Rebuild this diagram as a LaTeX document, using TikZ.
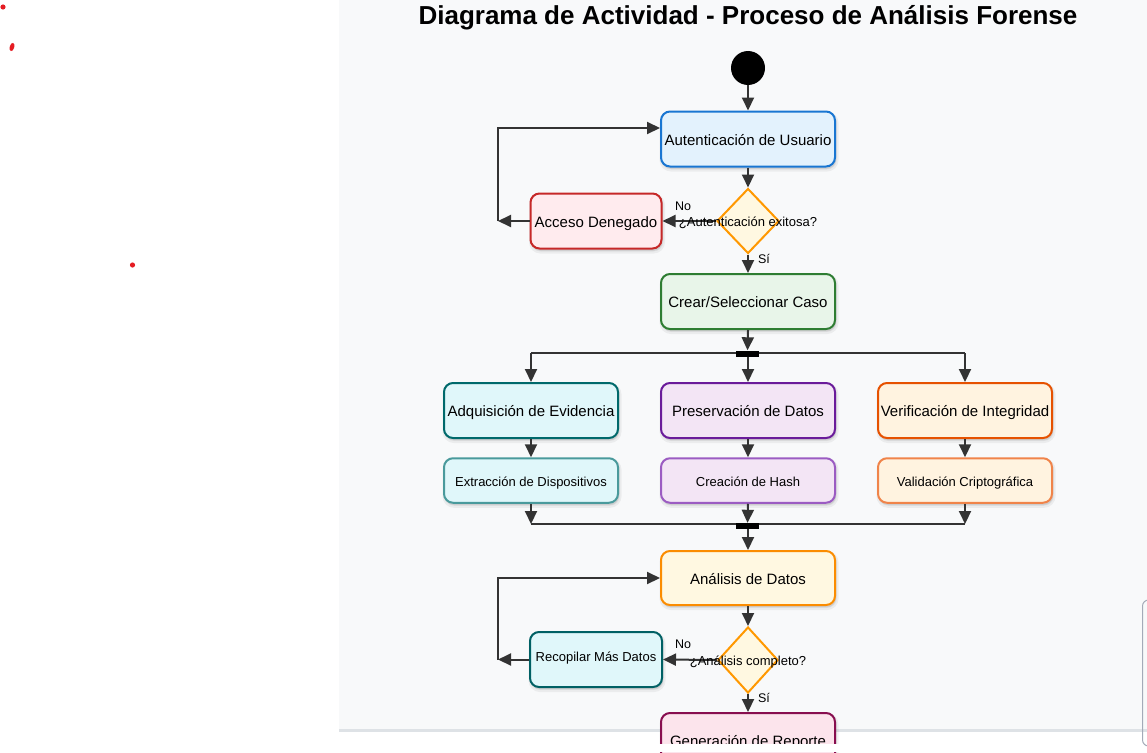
\documentclass[tikz,border=0pt]{standalone}
\usepackage{fontspec}
\setmainfont{Liberation Sans}
\usetikzlibrary{arrows.meta,shapes.geometric}
\definecolor{panel}{HTML}{F8F9FA}
\definecolor{panelline}{HTML}{DEE2E6}
\definecolor{arrowc}{HTML}{333333}
\definecolor{dotred}{HTML}{E51C23}
\definecolor{bBlue}{HTML}{1976D2}\definecolor{fBlue}{HTML}{E3F2FD}
\definecolor{bRed}{HTML}{C62828}\definecolor{fRed}{HTML}{FFEBEE}
\definecolor{bGreen}{HTML}{2E7D32}\definecolor{fGreen}{HTML}{E8F5E9}
\definecolor{bTeal}{HTML}{00696B}\definecolor{fTeal}{HTML}{E0F7FA}
\definecolor{bTealL}{HTML}{4A9A9C}
\definecolor{bPurple}{HTML}{6A1B9A}\definecolor{fPurple}{HTML}{F3E5F5}
\definecolor{bPurpleL}{HTML}{9B5CC2}
\definecolor{bOrangeD}{HTML}{E65100}\definecolor{fOrange}{HTML}{FFF3E0}
\definecolor{bOrangeL}{HTML}{F0844A}
\definecolor{bAmber}{HTML}{FB8C00}\definecolor{fAmber}{HTML}{FFF8E1}
\definecolor{bDiam}{HTML}{FF9800}
\definecolor{bTealD}{HTML}{006064}
\definecolor{bPink}{HTML}{880E4F}\definecolor{fPink}{HTML}{FCE4EC}
\definecolor{sideline}{HTML}{A3AAB8}
\tikzset{
  box/.style={rectangle, rounded corners=9pt, line width=2pt, inner sep=0pt,
    minimum width=174pt, minimum height=55pt, align=center,
    font=\fontsize{15}{18}\selectfont, text height=13pt, text depth=1pt,
    preaction={draw=black, draw opacity=0.05, line width=5pt, fill=black, fill opacity=0.05, transform canvas={xshift=1pt, yshift=-2.5pt}},
    preaction={draw=black, draw opacity=0.04, line width=2pt, fill=black, fill opacity=0.04, transform canvas={xshift=1pt, yshift=-2pt}}},
  smallbox/.style={box, minimum height=44.5pt, font=\fontsize{13}{16}\selectfont, text height=12pt, text depth=1pt},
  diam/.style={diamond, line width=2pt, draw=bDiam, fill=fAmber, inner sep=0pt,
    minimum width=62pt, minimum height=65pt},
  dtext/.style={font=\fontsize{13}{16}\selectfont, inner sep=0pt, text height=12pt, text depth=1pt},
  lbl/.style={font=\fontsize{12.5}{15}\selectfont, inner sep=0pt},
  bar/.style={rectangle, fill=black, inner sep=0pt, minimum width=23pt, minimum height=6pt},
  arr/.style={draw=arrowc, line width=2pt, -{Triangle[length=13pt,width=12pt]}},
  plain/.style={draw=arrowc, line width=2pt},
}
\begin{document}
\begin{tikzpicture}[x=1pt,y=-1pt]
\useasboundingbox (0,0) rectangle (1147,752);
\fill[white] (0,0) rectangle (1147,752);
% panel
\fill[panel] (339,0) rectangle (1147,729);
\fill[panelline] (339,729) rectangle (1147,731.5);
% red dots
\fill[dotred] (3,7) circle[radius=2.6pt];
\fill[dotred, rotate around={-15:(12,47)}] (12,47) ellipse[x radius=2.3pt, y radius=4.2pt];
\fill[dotred] (132.5,265) circle[radius=2.6pt];
% title
\node[font=\bfseries\fontsize{26}{30}\selectfont, inner sep=0pt] (title) at (748,18) {Diagrama de Actividad - Proceso de Análisis Forense};
% start
\node[circle, fill=black, minimum size=34pt, inner sep=0pt] (start) at (748,68) {};
% nodes
\node[box, draw=bBlue, fill=fBlue] (auth) at (748,139) {Autenticación de Usuario};
\node[diam] (d1) at (748,221) {};
\node[box, draw=bRed, fill=fRed, minimum width=131pt] (acc) at (596,221) {Acceso Denegado};
\node[box, draw=bGreen, fill=fGreen] (crear) at (748,301.5) {Crear/Seleccionar Caso};
\node[box, draw=bTeal, fill=fTeal] (adq) at (531,410.5) {Adquisición de Evidencia};
\node[box, draw=bPurple, fill=fPurple] (pres) at (748,410.5) {Preservación de Datos};
\node[box, draw=bOrangeD, fill=fOrange] (ver) at (965,410.5) {Verificación de Integridad};
\node[smallbox, draw=bTealL, fill=fTeal] (ext) at (531,480.5) {Extracción de Dispositivos};
\node[smallbox, draw=bPurpleL, fill=fPurple] (hash) at (748,480.5) {Creación de Hash};
\node[smallbox, draw=bOrangeL, fill=fOrange] (val) at (965,480.5) {Validación Criptográfica};
\node[box, draw=bAmber, fill=fAmber, minimum height=54pt] (anal) at (748,578) {Análisis de Datos};
\node[diam, minimum width=60pt, minimum height=66pt] (d2) at (748,660) {};
\node[box, draw=bTealD, fill=fTeal, minimum width=132pt, font=\fontsize{13}{16}\selectfont, text height=5pt, text depth=1pt] (rec) at (596,659.5) {Recopilar Más Datos};
\node[box, draw=bPink, fill=fPink] (gen) at (748,740.5) {Generación de Reporte};
% fork / join lines
\coordinate (f1L) at (531,353);
\coordinate (f1R) at (965,353);
\coordinate (j1L) at (531,524);
\coordinate (j1R) at (965,524);
\draw[plain] (f1L) -- (f1R);
\draw[plain] (j1L) -- (j1R);
\node[bar] (fork1) at (747.5,353.5) {};
\node[bar] (fork2) at (747.5,526) {};
% loop corners
\coordinate (L1) at (498,221);
\coordinate (L1t) at (498,128);
\coordinate (L2) at (498,659.5);
\coordinate (L2t) at (498,578);
% arrows
\draw[arr] (start.south) -- (auth.north);
\draw[arr] (auth.south) -- (d1.north);
\draw[arr] (d1.west) -- (acc.east);
\draw[arr] (acc.west) -- (L1);
\draw[arr] (L1) -- (L1t) -- (auth.west |- L1t);
\draw[arr] (d1.south) -- (crear.north);
\draw[arr] (crear.south) -- (fork1.north);
\draw[arr] (f1L) -- (adq.north);
\draw[arr] (fork1.south -| pres.north) -- (pres.north);
\draw[arr] (f1R) -- (ver.north);
\draw[arr] (adq.south) -- (ext.north);
\draw[arr] (pres.south) -- (hash.north);
\draw[arr] (ver.south) -- (val.north);
\draw[arr] (ext.south) -- (j1L);
\draw[arr] (hash.south) -- (fork2.north);
\draw[arr] (val.south) -- (j1R);
\draw[arr] (fork2.south -| anal.north) -- (anal.north);
\draw[arr] (anal.south) -- (d2.north);
\draw[arr] (d2.west) -- (rec.east);
\draw[arr] (rec.west) -- (L2);
\draw[arr] (L2) -- (L2t) -- (anal.west);
\draw[arr] (d2.south) -- (gen.north);
% diamond texts and labels
\node[dtext] (d1t) at (748,221) {¿Autenticación exitosa?};
\node[dtext] (d2t) at (748,660) {¿Análisis completo?};
\node[lbl] (no1) at (683,206) {No};
\node[lbl] (si1) at (764,259) {Sí};
\node[lbl] (no2) at (683,644) {No};
\node[lbl] (si2) at (764,698) {Sí};
% bottom clip
\fill[white] (0,743.5) rectangle (1147,752);
% right-edge element
\draw[sideline, line width=1pt, rounded corners=6pt] (1150,600) -- (1142.5,600) -- (1142.5,746) -- (1150,746);
\end{tikzpicture}
\end{document}
